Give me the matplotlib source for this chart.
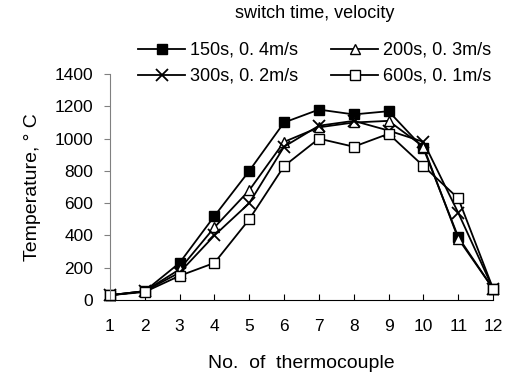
import numpy as np
import matplotlib.pyplot as plt

plt.rcParams['font.family'] = ['Liberation Sans', 'DejaVu Sans']

tc = np.arange(1, 13)
s150 = [30, 55, 230, 520, 800, 1100, 1180, 1150, 1170, 940, 390, 70]
s200 = [30, 55, 190, 450, 680, 980, 1070, 1100, 1110, 950, 380, 70]
s300 = [30, 55, 170, 400, 600, 950, 1080, 1110, 1050, 980, 540, 70]
s600 = [30, 50, 150, 230, 500, 830, 1000, 950, 1030, 830, 630, 70]
labels = ['150s, 0. 4m/s', '200s, 0. 3m/s', '300s, 0. 2m/s', '600s, 0. 1m/s']

fig = plt.figure(figsize=(5.11, 3.76), dpi=100)
ax = fig.add_axes([0.215, 0.202, 0.75, 0.601])

l1, = ax.plot(tc, s150, color='black', lw=1.3, marker='s', ms=7, mfc='black', mec='black', label=labels[0], clip_on=False)
l2, = ax.plot(tc, s200, color='black', lw=1.3, marker='^', ms=7, mfc='white', mec='black', label=labels[1], clip_on=False)
l3, = ax.plot(tc, s300, color='black', lw=1.3, marker='x', ms=8, mew=1.3, label=labels[2], clip_on=False)
l4, = ax.plot(tc, s600, color='black', lw=1.3, marker='s', ms=7, mfc='white', mec='black', label=labels[3], clip_on=False)

ax.set_xlim(1, 12)
ax.set_ylim(0, 1400)
ax.set_xticks(tc)
ax.set_yticks(range(0, 1401, 200))
ax.spines['top'].set_visible(False)
ax.spines['right'].set_visible(False)
ax.spines['left'].set_color('#808080')
ax.tick_params(axis='y', direction='out', length=4, color='#808080', labelsize=12.5, pad=8)
ax.tick_params(axis='x', direction='in', length=4, labelsize=12.5, pad=14)

ax.set_xlabel('No.  of  thermocouple', fontsize=14, labelpad=15)
ax.set_ylabel('Temperature, ° C', fontsize=14, labelpad=10)

leg = ax.legend([l1, l3, l2, l4], [labels[0], labels[2], labels[1], labels[3]],
                ncol=2, loc='lower center', bbox_to_anchor=(0.535, 0.88), frameon=False,
                title='switch time, velocity', fontsize=13, title_fontsize=13,
                handlelength=2.6, columnspacing=1.8, handletextpad=0.3, labelspacing=0.5)
leg._legend_box.sep = 14

fig.savefig('out.png', dpi=100)
